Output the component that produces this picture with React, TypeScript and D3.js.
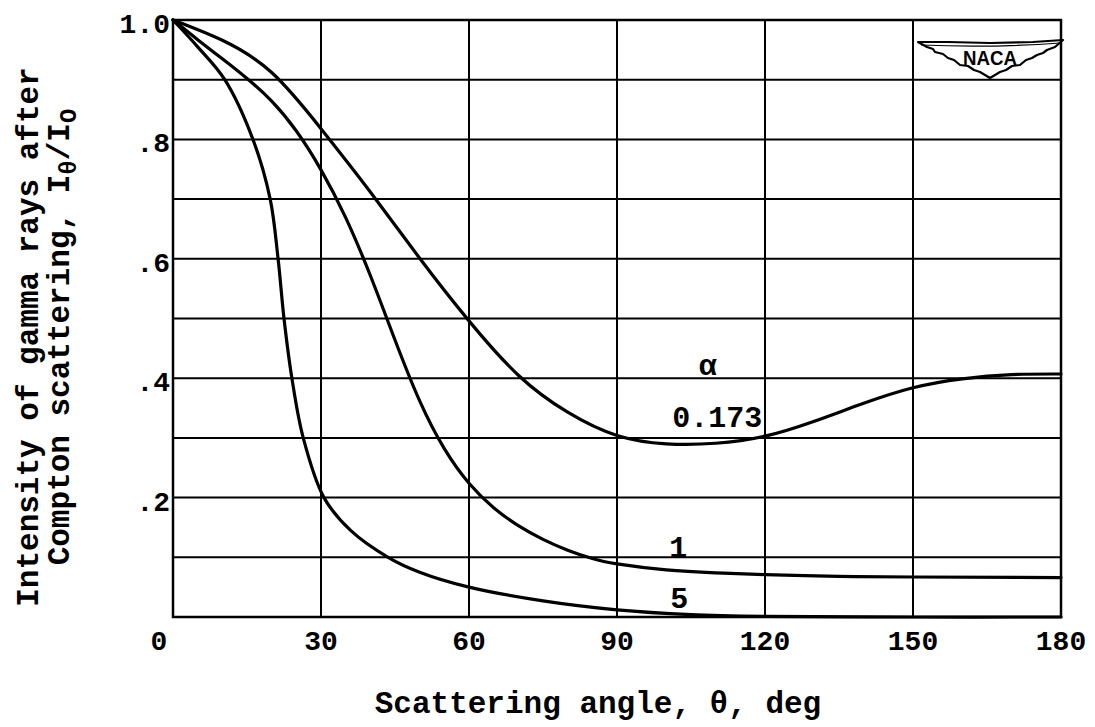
import * as d3 from "d3";

// Compton scattering intensity vs scattering angle
const angleTicks = [0, 30, 60, 90, 120, 150, 180];
const gridValues = [0, 0.1, 0.2, 0.3, 0.4, 0.5, 0.6, 0.7, 0.8, 0.9, 1.0];
const yTickValues = [0.2, 0.4, 0.6, 0.8, 1.0];
const yTickLabels = [".2", ".4", ".6", ".8", "1.0"];

const angleA173 = [0, 10, 20, 30, 40, 50, 60, 70, 80, 90, 100, 110, 120, 130, 140, 150, 160, 170, 180];
const valueA173 = [1, 0.966, 0.912, 0.818, 0.712, 0.601, 0.496, 0.405, 0.343, 0.304, 0.29, 0.291, 0.303, 0.328, 0.358, 0.384, 0.399, 0.406, 0.407];

const angleA1 = [0, 5, 10, 15, 20, 25, 30, 35, 40, 45, 50, 55, 60, 65, 70, 75, 80, 85, 90, 100, 110, 120, 135, 150, 180];
const valueA1 = [1, 0.967, 0.935, 0.902, 0.864, 0.814, 0.749, 0.669, 0.572, 0.464, 0.362, 0.282, 0.224, 0.183, 0.153, 0.13, 0.112, 0.098, 0.089, 0.079, 0.074, 0.071, 0.068, 0.067, 0.066];

const angleA5 = [0, 5, 10.5, 16.2, 19.7, 21.3, 22.5, 24.1, 26.4, 30.6, 36, 43.6, 50, 60, 75, 90, 105, 120, 150, 180];
const valueA5 = [1, 0.955, 0.9, 0.8, 0.7, 0.6, 0.5, 0.4, 0.3, 0.2, 0.145, 0.1, 0.075, 0.05, 0.027, 0.012, 0.004, 0.001, 0, 0];

const series = [
  { name: "0.173", angles: angleA173, values: valueA173, curve: d3.curveNatural },
  { name: "1", angles: angleA1, values: valueA1, curve: d3.curveNatural },
  { name: "5", angles: angleA5, values: valueA5, curve: d3.curveCatmullRom.alpha(0.5) },
];

const curveLabels = [
  { text: "α", angle: 108.4, value: 0.405 },
  { text: "0.173", angle: 110.3, value: 0.318 },
  { text: "1", angle: 102.4, value: 0.1 },
  { text: "5", angle: 102.6, value: 0.015 },
];

const W = 1095;
const H = 727;
const FONT = "'Liberation Mono', 'DejaVu Sans Mono', monospace";

const x = d3.scaleLinear().domain([0, 180]).range([173, 1061]);
const y = d3.scaleLinear().domain([0, 1]).range([617, 20]);

const makeLine = (curve: d3.CurveFactory) =>
  d3
    .line<[number, number]>()
    .x((d) => x(d[0]))
    .y((d) => Math.min(y(d[1]), y(0)))
    .curve(curve);

// wing outline of the NACA badge, relative to its grid cell
const wing: [number, number][] = [
  [5, 22], [14, 27], [20, 29], [22, 32], [30, 34], [35, 38], [41, 40], [47, 45],
  [55, 46], [61, 50], [67, 52], [72, 55], [77, 58], [82, 55], [87, 52], [93, 50],
  [99, 46], [107, 45], [113, 40], [119, 38], [124, 35], [130, 33], [134, 30],
  [142, 27], [150, 20], [120, 22], [77, 23], [35, 22],
];

const NacaBadge = () => {
  const x0 = x(150);
  const y0 = y(1.0);
  return (
    <g transform={`translate(${x0},${y0})`}>
      <path
        d={d3.line()(wing) + "Z"}
        fill="#fff"
        stroke="#000"
        strokeWidth={2.2}
        strokeLinejoin="round"
      />
      <path d="M8,25 Q77,28 147,23" fill="none" stroke="#000" strokeWidth={1.2} />
      <text
        x={77}
        y={45}
        textAnchor="middle"
        fontFamily="'Liberation Sans', Arial, sans-serif"
        fontWeight="bold"
        fontSize={20}
        textLength={54}
        lengthAdjust="spacingAndGlyphs"
      >
        NACA
      </text>
    </g>
  );
};

export default function App() {
  return (
    <svg
      width={W}
      height={H}
      viewBox={`0 0 ${W} ${H}`}
      style={{ position: "absolute", left: 0, top: 0, background: "#fff" }}
    >
      <rect width={W} height={H} fill="#fff" />

      {/* grid */}
      <g stroke="#000" strokeWidth={2}>
        {gridValues.map((v) => (
          <line key={"h" + v} x1={x(0)} x2={x(180)} y1={y(v)} y2={y(v)} />
        ))}
        {angleTicks.map((a) => (
          <line key={"v" + a} x1={x(a)} x2={x(a)} y1={y(0)} y2={y(1)} />
        ))}
      </g>
      <rect
        x={x(0)}
        y={y(1)}
        width={x(180) - x(0)}
        height={y(0) - y(1)}
        fill="none"
        stroke="#000"
        strokeWidth={2.5}
      />

      <NacaBadge />

      {/* curves */}
      <g fill="none" stroke="#000" strokeWidth={3.2} strokeLinecap="round">
        {series.map((s) => (
          <path
            key={s.name}
            d={
              makeLine(s.curve)(
                s.angles.map((a, i) => [a, s.values[i]] as [number, number])
              ) ?? ""
            }
          />
        ))}
      </g>

      {/* curve labels */}
      <g fontFamily={FONT} fontSize={30} textAnchor="middle" fontWeight="bold">
        {curveLabels.map((l) => (
          <text key={l.text} x={x(l.angle)} y={y(l.value)}>
            {l.text}
          </text>
        ))}
      </g>

      {/* x tick labels */}
      <g fontFamily={FONT} fontSize={28} textAnchor="middle" fontWeight="bold">
        {angleTicks.map((a) => (
          <text key={a} x={x(a) + (a === 0 ? -14 : 0)} y={y(0) + 33}>
            {a}
          </text>
        ))}
      </g>

      {/* y tick labels */}
      <g fontFamily={FONT} fontSize={28} textAnchor="end" fontWeight="bold">
        {yTickValues.map((v, i) => (
          <text key={v} x={x(0) - 3} y={y(v) + 13}>
            {yTickLabels[i]}
          </text>
        ))}
      </g>

      {/* axis titles */}
      <text x={598} y={713} fontFamily={FONT} fontSize={31} textAnchor="middle" fontWeight="bold">
        Scattering angle, θ, deg
      </text>
      <g
        transform="translate(0,337) rotate(-90)"
        fontFamily={FONT}
        fontSize={31}
        textAnchor="middle"
        fontWeight="bold"
      >
        <text x={0} y={38}>Intensity of gamma rays after</text>
        <text x={0} y={69}>
          Compton scattering, I
          <tspan fontSize={24} dy={7}>θ</tspan>
          <tspan dy={-7}>/I</tspan>
          <tspan fontSize={24} dy={7}>O</tspan>
        </text>
      </g>
    </svg>
  );
}
